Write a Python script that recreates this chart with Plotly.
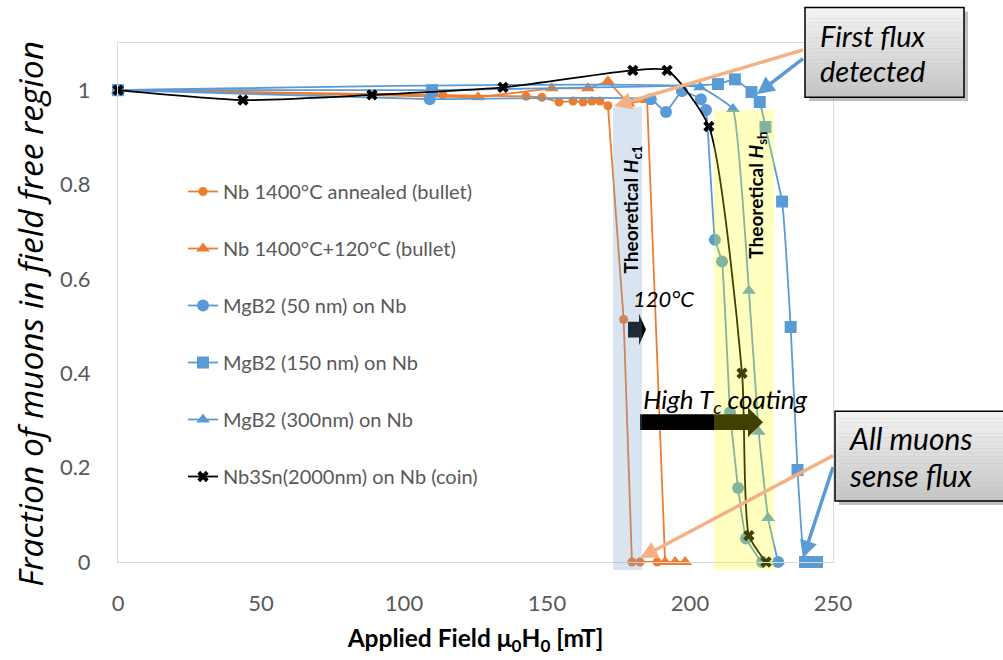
import plotly.graph_objects as go

# ---------------- data ----------------
nb_ann_x = [0, 113.6, 142.7, 148.2, 154.2, 159.1, 162.6, 165.7, 168.5, 171.3, 176.8, 179.7, 182.5, 188.5]
nb_ann_y = [1.0, 0.99, 0.987, 0.985, 0.975, 0.977, 0.975, 0.977, 0.977, 0.967, 0.514, 0.0, 0.0, 0.0]

nb_120_x = [0, 125.9, 151.7, 164.3, 171.3, 178.5, 185.0, 191.3, 194.8, 198.3]
nb_120_y = [1.0, 0.985, 1.004, 1.004, 1.019, 0.972, 0.979, 0.0, 0.0, 0.0]

mg50_x = [0, 109.0, 186.3, 191.6, 197.2, 203.8, 205.6, 208.7, 211.2, 214.0, 216.8, 219.6, 225.2, 230.8]
mg50_y = [1.0, 0.981, 0.981, 0.954, 0.998, 0.981, 0.958, 0.683, 0.637, 0.317, 0.157, 0.05, 0.0, 0.0]

mg150_x = [0, 109.8, 209.8, 215.7, 221.5, 224.4, 226.4, 232.2, 235.2, 237.6, 240.2, 244.4]
mg150_y = [1.0, 1.0, 1.013, 1.023, 0.996, 0.975, 0.922, 0.764, 0.498, 0.195, 0.0, 0.0]

mg300_x = [0, 203.5, 215.0, 220.6, 224.0, 227.3, 230.8]
mg300_y = [1.0, 1.006, 0.96, 0.575, 0.276, 0.093, 0.0]

nb3sn_x = [0, 43.7, 88.8, 134.6, 180.0, 192.0, 206.6, 218.2, 220.6, 226.6]
nb3sn_y = [1.0, 0.979, 0.99, 1.006, 1.042, 1.042, 0.923, 0.40, 0.056, 0.0]

series_names = [
    "Nb 1400°C annealed (bullet)",
    "Nb 1400°C+120°C (bullet)",
    "MgB2 (50 nm) on Nb",
    "MgB2 (150 nm) on Nb",
    "MgB2 (300nm) on Nb",
    "Nb3Sn(2000nm) on Nb (coin)",
]

x_ticks = [0, 50, 100, 150, 200, 250]
y_ticks = [0, 0.2, 0.4, 0.6, 0.8, 1]
y_ticktext = ["0", "0.2", "0.4", "0.6", "0.8", "1"]

# ---------------- layout helpers ----------------
W, H = 1003, 660
L, R, T, B = 118, 170, 43, 90
PW = W - L - R
PH = H - T - B
FONT = "Lato"


def px(x):
    return (x - L) / PW


def py(y):
    return (H - B - y) / PH


ORANGE = "#ED7D31"
BLUE = "#5B9BD5"

fig = go.Figure()

styles = [
    (nb_ann_x, nb_ann_y, ORANGE, "circle", 9, "linear", 0),
    (nb_120_x, nb_120_y, ORANGE, "triangle-up", 12, "linear", 0),
    (mg50_x, mg50_y, BLUE, "circle", 12, "spline", 0.3),
    (mg150_x, mg150_y, BLUE, "square", 12, "spline", 0.3),
    (mg300_x, mg300_y, BLUE, "triangle-up", 12, "spline", 0.3),
    (nb3sn_x, nb3sn_y, "black", "x", 10, "spline", 0.6),
]

for i, (xs, ys, col, sym, sz, shape, sm) in enumerate(styles):
    line = dict(color=col, width=1.8, shape=shape)
    if shape == "spline":
        line["smoothing"] = sm
    fig.add_trace(go.Scatter(
        x=xs, y=ys, name=series_names[i], mode="lines+markers",
        line=line,
        marker=dict(color=col, symbol=sym, size=sz, line=dict(width=0)),
        legendgroup=f"g{i}", cliponaxis=False,
    ))

shapes = []


def path_from(points):
    return "M " + " L ".join(f"{px(a):.5f},{py(b):.5f}" for a, b in points) + " Z"


# block arrows (drawn below tinted bands)
small_arrow = [(628, 326), (639, 326), (639, 318), (646, 334), (639, 350), (639, 342), (628, 342)]
big_arrow = [(640, 420), (748, 420), (748, 413), (763, 428), (748, 443), (748, 436), (640, 436)]
for pts in (small_arrow, big_arrow):
    shapes.append(dict(type="path", xref="paper", yref="paper", path=path_from(pts),
                       fillcolor="black", line=dict(width=0), layer="above"))

# theoretical bands
shapes.append(dict(type="rect", xref="paper", yref="paper", x0=px(613), x1=px(642), y0=py(578), y1=py(108),
                   fillcolor="rgba(116,156,204,0.27)", line=dict(width=0), layer="above"))
shapes.append(dict(type="rect", xref="paper", yref="paper", x0=px(714), x1=px(774), y0=py(578), y1=py(111),
                   fillcolor="rgba(255,255,0,0.25)", line=dict(width=0), layer="above"))


def callout(x0, y0, x1, y1):
    out = []
    out.append(dict(type="rect", xref="paper", yref="paper", x0=px(x0 + 4), x1=px(x1 + 4), y0=py(y1 + 4), y1=py(y0 + 4),
                    fillcolor="rgba(0,0,0,0.25)", line=dict(width=0), layer="above"))
    n = 24
    for k in range(n):
        ya = y0 + (y1 - y0) * k / n
        yb = y0 + (y1 - y0) * (k + 1) / n
        t = k / (n - 1)
        g = int(243 - t * 45)
        out.append(dict(type="rect", xref="paper", yref="paper", x0=px(x0), x1=px(x1), y0=py(yb), y1=py(ya),
                        fillcolor=f"rgb({g},{g},{g})", line=dict(width=0), layer="above"))
    out.append(dict(type="rect", xref="paper", yref="paper", x0=px(x0), x1=px(x1), y0=py(y1), y1=py(y0),
                    fillcolor="rgba(0,0,0,0)", line=dict(width=1.5, color="black"), layer="above"))
    return out


shapes += callout(805, 7, 964, 98)
shapes += callout(835, 417, 1012, 508)

annotations = []


def text(x, y, s, size, anchor="left", angle=0, color="black", family=FONT):
    annotations.append(dict(xref="paper", yref="paper", x=px(x), y=py(y), text=s, showarrow=False,
                            xanchor=anchor, yanchor="middle", textangle=angle,
                            font=dict(family=family, size=size, color=color)))


# y-axis title placed as rotated text
text(30, 318, "<i>Fraction of muons in field free region</i>", 33.5, anchor="center", angle=-90,
     family="Open Sans")

text(818, 35, "<i>First flux</i>", 29)
text(818, 71, "<i>detected</i>", 29)
text(847, 444, "<i>All muons</i>", 30)
text(847, 482, "<i>sense flux</i>", 30)
text(632, 212, "<b>Theoretical <i>H</i><sub>c1</sub></b>", 19, anchor="center", angle=-90)
text(757, 198, "<b>Theoretical <i>H</i><sub>sh</sub></b>", 19, anchor="center", angle=-90)
text(631, 302, "<i>120°C</i>", 22)
text(641, 406, "<i>High T<sub>c</sub> coating</i>", 26)


def arrow(hx, hy, tx, ty, col):
    annotations.append(dict(xref="paper", yref="paper", x=px(hx), y=py(hy), ax=tx - hx, ay=ty - hy,
                            axref="pixel", ayref="pixel", text=" ", showarrow=True,
                            arrowhead=2, arrowsize=1.0, arrowwidth=3.5, arrowcolor=col))


SALMON = "#F4B183"
arrow(614, 107, 806, 50, SALMON)
arrow(757, 95, 806, 57, BLUE)
arrow(640, 566, 836, 462, SALMON)
arrow(803, 566, 836, 466, BLUE)

fig.update_layout(
    width=W, height=H,
    margin=dict(l=L, r=R, t=T, b=B, pad=0),
    paper_bgcolor="white", plot_bgcolor="white",
    font=dict(family=FONT, color="#595959"),
    showlegend=True,
    legend=dict(x=px(183), y=py(174), xanchor="left", yanchor="top",
                bgcolor="rgba(0,0,0,0)", font=dict(size=20, color="#595959", family=FONT),
                tracegroupgap=28, itemwidth=30, traceorder="grouped"),
    shapes=shapes,
    annotations=annotations,
    xaxis=dict(range=[0, 250], tickvals=x_ticks, ticktext=[str(v) for v in x_ticks],
               showgrid=False, zeroline=False, showline=True, linecolor="#d9d9d9", linewidth=1, mirror=True,
               ticks="", ticklabelstandoff=22, tickfont=dict(size=22, color="#595959", family=FONT),
               title=dict(text="<b>Applied Field μ<sub>0</sub>H<sub>0</sub> [mT]</b>", standoff=14,
                          font=dict(size=24.5, color="black", family=FONT))),
    yaxis=dict(range=[0, 1.1], tickvals=y_ticks, ticktext=y_ticktext,
               showgrid=False, zeroline=False, showline=True, linecolor="#d9d9d9", linewidth=1, mirror=True,
               ticks="", ticklabelstandoff=22, tickfont=dict(size=22, color="#595959", family=FONT)),
)

fig.write_html("out.html")
